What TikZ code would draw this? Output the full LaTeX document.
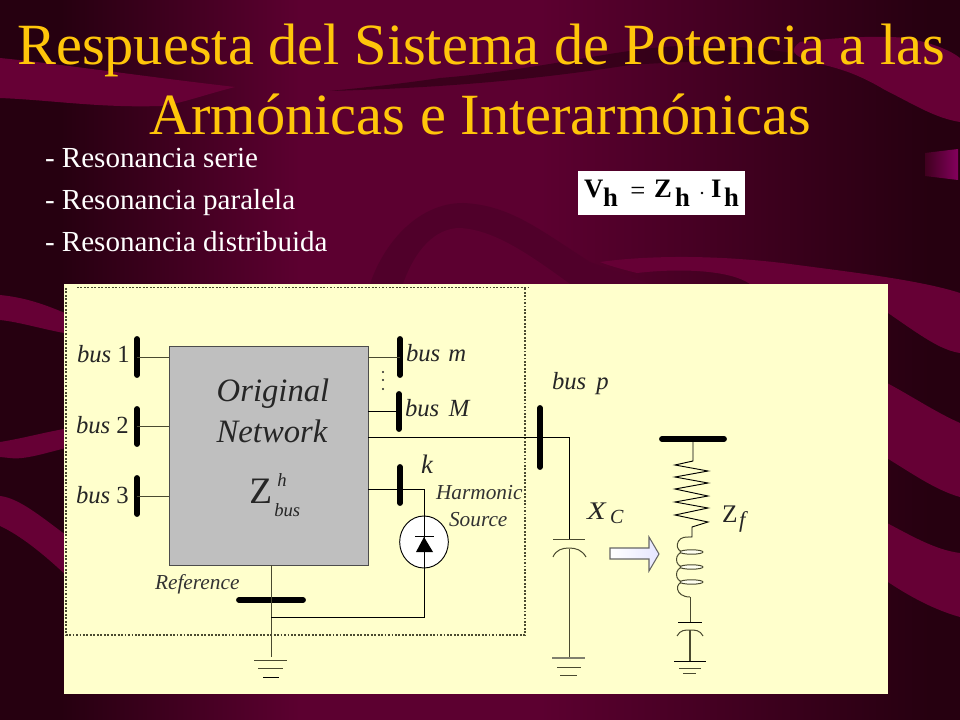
\documentclass[tikz,border=0pt]{standalone}
\usepackage{fontspec}
\setmainfont{Liberation Serif}
\usetikzlibrary{shapes.geometric}
\definecolor{panel}{HTML}{FFFFCC}
\definecolor{titlecol}{HTML}{FFC60A}
\definecolor{basebg}{HTML}{5C0030}
\definecolor{darkbg}{HTML}{260010}
\definecolor{band}{HTML}{660035}
\definecolor{arcshade}{HTML}{50002A}
\definecolor{wire}{HTML}{4A4A30}
\tikzset{
  busbar/.style={line width=4.4pt,line cap=round,black},
  wireline/.style={line width=0.75pt,wire},
  blackwire/.style={line width=0.7pt,black},
  dotbox/.style={line width=1pt,wire,dash pattern=on 1.4pt off 1.2pt},
  lab/.style={anchor=base west,inner sep=0,outer sep=0,font=\fontsize{18.5}{19}\selectfont,text=black!85},
  capt/.style={anchor=base west,inner sep=0,outer sep=0,font=\itshape\fontsize{16}{16}\selectfont,text=black!80},
  bullet/.style={anchor=base west,inner sep=0,outer sep=0,font=\fontsize{21.8}{22}\selectfont,text=white},
  titletxt/.style={anchor=base,inner sep=0,outer sep=0,font=\fontsize{43.8}{44}\selectfont,text=titlecol},
  eqbig/.style={anchor=base west,inner sep=0,outer sep=0,font=\bfseries\fontsize{20}{20}\selectfont,text=black},
  eqsub/.style={anchor=base west,inner sep=0,outer sep=0,font=\bfseries\fontsize{20}{20}\selectfont,text=black},
}
\begin{document}
\begin{tikzpicture}[x=0.75pt,y=-0.75pt]
\useasboundingbox (0,0) rectangle (960,720);
% background
\fill[basebg] (0,0) rectangle (960,720);
\fill[darkbg] (0,0) rectangle (60,720);
\shade[left color=darkbg,right color=basebg,shading angle=90] (60,0) rectangle (300,720);
\shade[left color=basebg,right color=darkbg] (540,0) rectangle (930,720);
\fill[darkbg] (930,0) rectangle (960,720);
% top dark swoosh
\fill[darkbg,opacity=.6] (330,91) .. controls (430,88) and (520,82) .. (630,65) .. controls (700,60) and (770,60) .. (825,64) .. controls (800,50) and (740,45) .. (680,46) .. controls (620,48) and (540,70) .. (440,78) .. controls (400,84) and (360,88) .. (330,91) -- cycle;
% top-left band
\fill[band] (0,58) .. controls (60,64) and (140,76) .. (235,87) .. controls (200,96) and (180,104) .. (160,106) .. controls (100,108) and (50,100) .. (0,98) -- cycle;
% top-right band
\fill[band] (800,42) .. controls (830,38) and (880,35) .. (905,38) .. controls (930,42) and (950,50) .. (960,58) -- (960,122) .. controls (935,118) and (915,105) .. (885,90) .. controls (860,75) and (840,68) .. (815,63) .. controls (790,55) and (790,50) .. (800,42) -- cycle;
% arch above panel
\fill[arcshade] (370,284) .. controls (385,240) and (420,203) .. (463,203) .. controls (510,205) and (540,230) .. (590,262) -- (650,284) -- cycle;
\fill[basebg] (403,284) .. controls (415,250) and (435,228) .. (460,228) .. controls (495,230) and (530,255) .. (570,284) -- cycle;
% band above and right of panel
\fill[band] (600,262) .. controls (650,255) and (720,255) .. (790,264) .. controls (850,272) and (920,280) .. (960,293) -- (960,353) .. controls (940,350) and (920,335) .. (888,313) -- (860,284) -- (750,284) .. controls (730,270) and (680,268) .. (637,273) .. controls (625,270) and (610,266) .. (600,262) -- cycle;
% left bands
\fill[band] (0,295) .. controls (30,298) and (50,307) .. (70,315) -- (70,334) .. controls (45,330) and (20,322) .. (0,320) -- cycle;
\fill[band] (0,442) .. controls (25,438) and (45,432) .. (70,428) -- (70,447) .. controls (45,453) and (25,460) .. (10,458) -- (0,457) -- cycle;
\fill[band] (0,496) .. controls (20,498) and (45,520) .. (70,538) -- (70,579) .. controls (45,555) and (20,535) .. (0,526) -- cycle;
% right bands
\fill[band] (885,382) .. controls (910,395) and (935,412) .. (960,423) -- (960,497) .. controls (935,490) and (910,472) .. (885,457) -- cycle;
\fill[band] (885,522) .. controls (910,535) and (935,550) .. (960,553) -- (960,617) .. controls (935,610) and (910,597) .. (885,580) -- cycle;
% small square
\shade[left color=darkbg!60!band,right color=band!80!magenta,shading angle=90] (925,153) -- (958,149) -- (958,180) -- (925,176) -- cycle;
% title
\node[titletxt] (t1) at (481,64.5) {Respuesta del Sistema de Potencia a las};
\node[titletxt] (t2) at (480,134.5) {Armónicas e Interarmónicas};
\node[bullet] (b1) at (45,167.5) {- Resonancia serie};
\node[bullet] (b2) at (45,209.5) {- Resonancia paralela};
\node[bullet] (b3) at (45,251.5) {- Resonancia distribuida};
% formula
\fill[white] (578,171) rectangle (745,215);
\node[eqbig] (eV) at (584,198) {V};
\node[eqsub] (eh1) at (603,207) {h};
\node[anchor=base west,inner sep=0,font=\fontsize{20}{20}\selectfont] (eEq) at (630,200) {=};
\node[eqbig] (eZ) at (654,198) {Z};
\node[eqsub] (eh2) at (675,207) {h};
\node[circle,fill=black,inner sep=0,minimum size=2pt] (eDot) at (702,193) {};
\node[eqbig] (eI) at (711,198) {I};
\node[eqsub] (eh3) at (724,207) {h};
% panel
\fill[panel] (64,284) rectangle (888,694);
\draw[dotbox] (66,288) -- (66,635) -- (525,635) -- (525,288);
\draw[dotbox] (77,287.5) -- (528,287.5);
% network box
\node[draw=black!70,fill=black!25,line width=0.8pt,minimum width=149.25pt,minimum height=164.25pt,inner sep=0,anchor=north west] (net) at (169,346) {};
\node[anchor=base,inner sep=0,font=\itshape\fontsize{24.5}{25}\selectfont,text=black!85] (o1) at (273,401) {Original};
\node[anchor=base,inner sep=0,font=\itshape\fontsize{24.5}{25}\selectfont,text=black!85] (o2) at (272,442) {Network};
\node[anchor=base west,inner sep=0,font=\fontsize{28}{28}\selectfont,text=black!85] (zz) at (249,503) {Z};
\node[anchor=base west,inner sep=0,font=\itshape\fontsize{14}{14}\selectfont,text=black!85] (zh) at (277,486) {h};
\node[anchor=base west,inner sep=0,font=\itshape\fontsize{14}{14}\selectfont,text=black!85] (zb) at (274,516) {bus};
% coordinates
\coordinate (b1t) at (137,339); \coordinate (b1b) at (137,375); \coordinate (b1c) at (137,357);
\coordinate (b2t) at (137,409); \coordinate (b2b) at (137,444); \coordinate (b2c) at (137,426);
\coordinate (b3t) at (137,478); \coordinate (b3b) at (137,514); \coordinate (b3c) at (137,496);
\coordinate (bmt) at (400,339); \coordinate (bmb) at (400,375); \coordinate (bmc) at (400,357);
\coordinate (bMt) at (399,394); \coordinate (bMb) at (399,429); \coordinate (bMc) at (399,411);
\coordinate (kt) at (400,467); \coordinate (kb) at (400,503); \coordinate (kc) at (400,489);
\coordinate (bpt) at (540,408); \coordinate (bpb) at (540,467);
\coordinate (nl1) at (169,357); \coordinate (nl2) at (169,426); \coordinate (nl3) at (169,496);
\coordinate (nrm) at (368,357); \coordinate (nrM) at (368,411); \coordinate (nrp) at (368,437); \coordinate (nrk) at (368,489);
\coordinate (pc) at (569,437); \coordinate (kturn) at (424,489);
\coordinate (rl) at (239,600); \coordinate (rr) at (303,600);
\coordinate (ntop) at (271,565); \coordinate (nret) at (271,617.5); \coordinate (retc) at (424,617.5);
\coordinate (g1t) at (271,657);
\coordinate (capA) at (569,539); \coordinate (capB) at (569,549); \coordinate (g2t) at (569,658);
% buses
\foreach \a/\b in {b1t/b1b,b2t/b2b,b3t/b3b,bmt/bmb,bMt/bMb,kt/kb,bpt/bpb,rl/rr}{\draw[busbar] (\a) -- (\b);}
% wires
\draw[wireline] (b1c) -- (nl1);
\draw[wireline] (b2c) -- (nl2);
\draw[wireline] (b3c) -- (nl3);
\draw[wireline] (nrm) -- (bmc);
\draw[blackwire] (nrM) -- (bMc);
\draw[blackwire] (nrp) -- (pc) -- (capA);
\draw[blackwire] (nrk) -- (kturn);
\draw[wireline] (ntop) -- (g1t);
\draw[line width=1.1pt,black] (nret) -- (287,617.5);
% source
\node[draw=black,fill=white,line width=0.7pt,ellipse,minimum width=36.5pt,minimum height=39pt,inner sep=0] (src) at (424,542) {};
\draw[blackwire] (kturn) -- (src.north);
\draw[blackwire] (src.south) -- (retc) -- (nret);
\draw[blackwire] (src.north) -- (src.south);
\fill[black] (424,537) -- (433,552) -- (416,552) -- cycle;
\draw[line width=1.1pt,black] (415,536.5) -- (434,536.5);
% ground 1
\draw[wireline] (254,660) -- (287,660);
\draw[wireline] (258,668.5) -- (283,668.5);
\draw[blackwire] (263,677) -- (279,677);
% shunt cap
\draw[wireline] (553,539) -- (585,539);
\draw[wireline] (553,557) .. controls (556,550) and (562,548) .. (569,548) .. controls (576,548) and (582,550) .. (586,557);
\draw[wireline] (capB) -- (g2t);
\draw[line width=1.1pt,wire!70] (552,658) -- (585,658);
\draw[wireline] (557,667) -- (581,667);
\draw[wireline] (560,675) -- (577,675);
% arrow
\shade[left color=white,right color=blue!10,draw=black!60,line width=.8pt] (610,548) -- (649,548) -- (649,537) -- (659,554) -- (649,571) -- (649,559) -- (610,559) -- cycle;
% filter
\coordinate (ft) at (693,439); \coordinate (fa) at (693,461);
\draw[busbar] (662,439) -- (724,439);
\draw[blackwire] (ft) -- (fa) -- (675,465) -- (708,471) -- (675,477) -- (708,483) -- (675,489) -- (708,496) -- (675,502) -- (708,508) -- (675,515) -- (708,522) -- (692,527) -- (692,537) -- (688,537);
\draw[wireline] (688,537) .. controls (675,536) and (674,552) .. (684,552)
 (684,552) .. controls (674,552) and (674,567) .. (684,567)
 (684,567) .. controls (674,567) and (674,582) .. (684,582)
 (684,582) .. controls (674,582) and (675,597) .. (690,597);
\foreach \yy in {552,567,582}{\draw[wireline,fill=white!70!panel] (691.5,\yy) ellipse (11.5 and 2.2);}
\draw[wireline] (690,597) -- (690,622);
\draw[blackwire] (678,622) -- (702,622);
\draw[wireline] (677,636) .. controls (680,630) and (685,630) .. (690,630) .. controls (695,630) and (700,630) .. (703,636);
\draw[line width=1.1pt,wire] (690,630) -- (690,661);
\draw[blackwire] (674,661) -- (706,661);
\draw[wireline] (679,668) -- (701,668);
\draw[wireline] (683,673.5) -- (696,673.5);
% labels
\node[lab] (l1) at (77,362) {\textit{bus} 1};
\node[lab] (l2) at (76,433) {\textit{bus} 2};
\node[lab] (l3) at (76,503) {\textit{bus} 3};
\node[lab] (lm) at (406,361) {\textit{bus\hspace{1.5pt} m}};
\node[lab] (lM) at (405,416) {\textit{bus\hspace{2.5pt} M}};
\node[lab] (lp) at (552,389) {\textit{bus\hspace{3pt} p}};
\node[lab,font=\itshape\fontsize{20}{20}\selectfont] (lk) at (421,473) {k};
\node[capt] (h1) at (436,499) {Harmonic};
\node[capt] (h2) at (449,526) {Source};
\node[capt] (ref) at (155,589) {Reference};
\node[lab,xscale=1.2,font=\itshape\fontsize{19}{19}\selectfont] (xc) at (587,519) {X};
\node[lab,font=\itshape\fontsize{15}{15}\selectfont] (xc2) at (610,523) {C};
\node[lab,font=\fontsize{19}{19}\selectfont] (zf) at (722,522) {Z};
\node[lab,font=\itshape\fontsize{17}{17}\selectfont] (zf2) at (739,527) {f};
\foreach \yy/\n in {372/d1,380/d2,389/d3}{\node[circle,fill=black!85,inner sep=0,minimum size=1.6pt] (\n) at (383,\yy) {};}
\end{tikzpicture}
\end{document}
